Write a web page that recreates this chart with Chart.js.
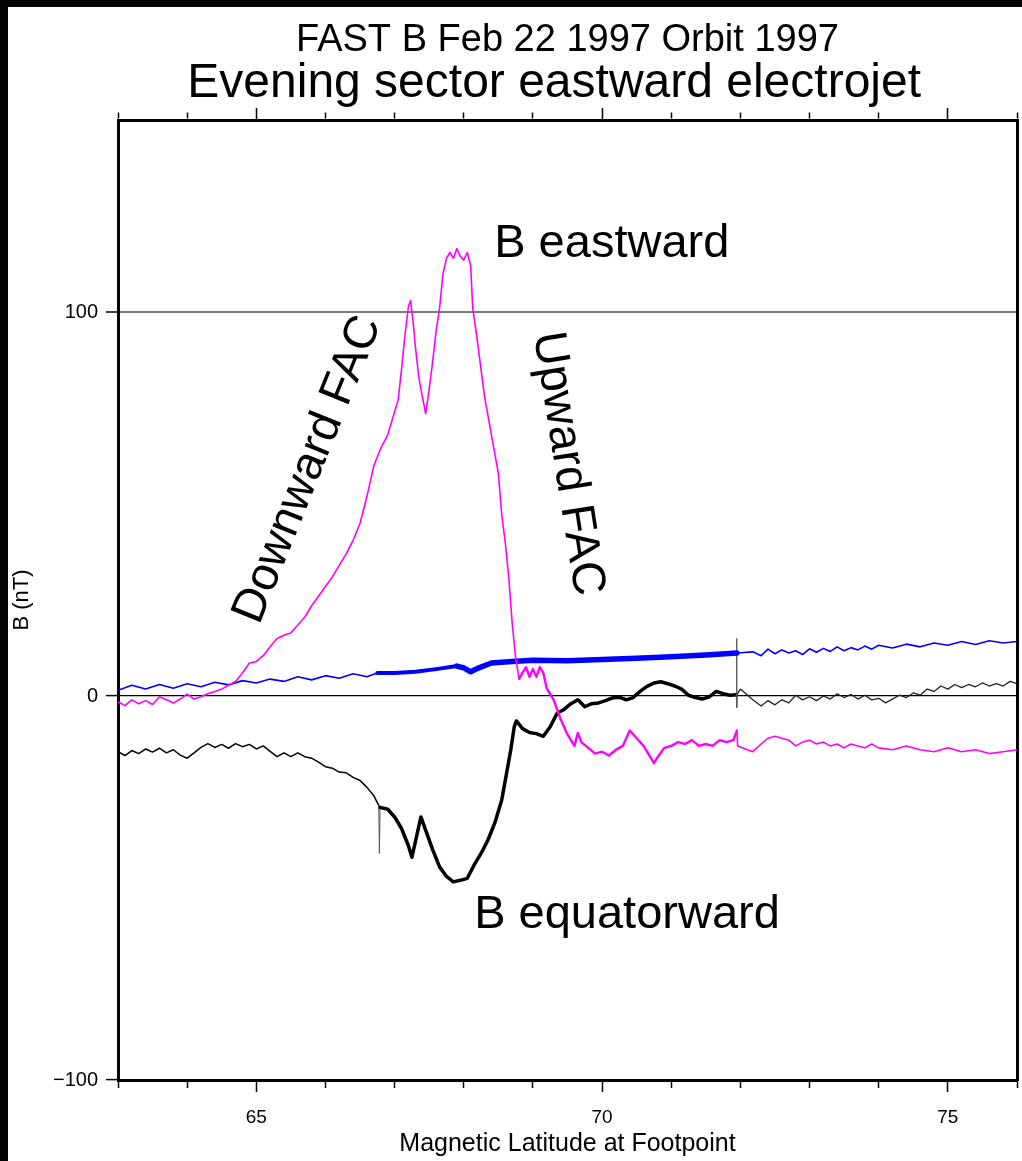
<!DOCTYPE html>
<html>
<head>
<meta charset="utf-8">
<title>FAST B Feb 22 1997 Orbit 1997</title>
<script src="https://cdn.jsdelivr.net/npm/chart.js@4.4.1/dist/chart.umd.min.js"></script>
<style>
  html, body { margin: 0; padding: 0; background: #000; }
  #wrap { width: 1022px; height: 1161px; }
</style>
</head>
<body>
<div id="wrap"><canvas id="chart" width="1022" height="1161"></canvas></div>
<script>
// FAST magnetometer pass - evening sector eastward electrojet

const FONT = "'Liberation Sans', Arial, Helvetica, sans-serif";

// tick values
const yTicks = [-100, 0, 100];
const latMin = 63;
const latMax = 76;
const yMin = -100;
const yMax = 150;

// B eastward (magenta)
const eastLat = [
  63.0, 63.1, 63.2, 63.3, 63.4, 63.5, 63.6, 63.7, 63.8, 63.9,
  64.0, 64.1, 64.2, 64.3, 64.4, 64.5, 64.6, 64.7, 64.8, 64.9,
  65.0, 65.1, 65.2, 65.3, 65.4, 65.5, 65.6, 65.7, 65.8, 65.9,
  66.0, 66.1, 66.2, 66.3, 66.4, 66.5, 66.6, 66.7, 66.8, 66.9,
  67.0, 67.05, 67.1, 67.15, 67.2, 67.23, 67.27, 67.3, 67.35, 67.4,
  67.45, 67.5, 67.55, 67.6, 67.65, 67.7, 67.75, 67.8, 67.85, 67.9,
  67.95, 68.0, 68.05, 68.1, 68.13, 68.2, 68.3, 68.4, 68.5, 68.55,
  68.6, 68.65, 68.7, 68.75, 68.8, 68.85, 68.9, 68.95, 69.0, 69.05,
  69.1, 69.15, 69.2, 69.3, 69.4, 69.5, 69.6, 69.65, 69.7, 69.8,
  69.9, 70.0, 70.1, 70.2, 70.3, 70.4, 70.5, 70.6, 70.7, 70.75,
  70.8, 70.9, 71.0, 71.1, 71.2, 71.3, 71.4, 71.5, 71.6, 71.7,
  71.8, 71.9, 71.95, 71.96, 72.18, 72.3, 72.4, 72.5, 72.6, 72.7,
  72.8, 72.9, 73.0, 73.1, 73.2, 73.3, 73.4, 73.5, 73.6, 73.7,
  73.8, 73.9, 74.0, 74.2, 74.4, 74.6, 74.8, 75.0, 75.2, 75.4,
  75.6, 75.8, 76.0
];
const eastB = [
  -1.5, -2.5, -1.0, -2.0, -1.2, -2.2, -0.2, -1.0, -1.8, -0.8,
  0.5, -0.8, -0.2, 0.6, 1.2, 1.8, 2.8, 3.8, 6.0, 8.6,
  9.0, 10.5, 12.8, 15.0, 15.8, 16.4, 18.5, 20.5, 23.5, 26.0,
  28.5, 31.0, 34.0, 37.0, 40.5, 45.0, 52.0, 60.0, 64.5, 68.0,
  74.0, 77.0, 85.0, 94.0, 101.5, 103.0, 97.0, 91.0, 83.0, 78.0,
  73.5, 80.0, 87.0, 95.0, 101.0, 110.0, 114.0, 115.5, 114.0, 116.5,
  114.5, 113.5, 115.5, 112.0, 101.0, 92.0, 78.0, 68.0, 58.0, 47.0,
  40.0, 31.0, 19.0, 10.0, 4.5, 6.0, 7.5, 5.0, 7.0, 5.0,
  7.5, 6.0, 2.0, -1.0, -6.0, -10.0, -13.0, -9.6, -12.0, -13.5,
  -15.0, -14.5, -15.5, -14.0, -13.0, -9.0, -11.0, -13.0, -16.0, -17.5,
  -16.0, -13.5, -13.0, -12.0, -12.5, -11.5, -13.0, -12.5, -13.0, -11.5,
  -12.0, -11.5, -9.0, -13.0, -14.5, -12.5, -11.0, -10.5, -11.0, -11.5,
  -13.0, -12.0, -11.5, -12.5, -12.0, -13.0, -12.5, -13.5, -12.5, -13.0,
  -13.5, -12.5, -13.5, -14.0, -13.0, -14.0, -14.5, -13.5, -14.5, -14.0,
  -15.0, -14.5, -14.0
];

// third component (blue, unlabelled)
const alongLat = [
  63.0, 63.2, 63.4, 63.6, 63.8, 64.0, 64.2, 64.4, 64.6, 64.8,
  65.0, 65.2, 65.4, 65.6, 65.8, 66.0, 66.2, 66.4, 66.6, 66.75,
  67.0, 67.3, 67.6, 67.9, 68.0, 68.1, 68.2, 68.4, 68.7, 69.0,
  69.5, 70.0, 70.5, 71.0, 71.5, 71.95, 72.18, 72.3, 72.4, 72.5,
  72.6, 72.7, 72.8, 72.9, 73.0, 73.1, 73.2, 73.3, 73.4, 73.5,
  73.6, 73.7, 73.8, 73.9, 74.0, 74.2, 74.4, 74.6, 74.8, 75.0,
  75.2, 75.4, 75.6, 75.8, 76.0
];
const alongB = [
  1.5, 2.8, 1.8, 3.0, 2.0, 3.2, 2.4, 3.6, 2.9, 4.0,
  3.4, 4.4, 3.8, 5.0, 4.2, 5.3, 4.6, 5.8, 5.0, 6.0,
  6.0, 6.3, 7.0, 7.8, 7.3, 6.3, 7.2, 8.6, 9.0, 9.3,
  9.2, 9.5, 9.8, 10.2, 10.7, 11.2, 11.5, 10.5, 12.2, 11.0,
  12.0, 11.2, 11.8, 10.8, 12.3, 11.4, 12.4, 11.6, 12.8, 11.8,
  12.6, 12.0, 13.0, 12.2, 13.2, 12.5, 13.5, 12.8, 13.8, 13.2,
  14.2, 13.4, 14.4, 13.8, 14.2
];

// B equatorward (black)
const equLat = [
  63.0, 63.1, 63.2, 63.3, 63.4, 63.5, 63.6, 63.7, 63.8, 63.9,
  64.0, 64.1, 64.2, 64.3, 64.4, 64.5, 64.6, 64.7, 64.8, 64.9,
  65.0, 65.1, 65.2, 65.3, 65.4, 65.5, 65.6, 65.7, 65.8, 65.9,
  66.0, 66.1, 66.2, 66.3, 66.4, 66.5, 66.6, 66.7, 66.77, 66.78,
  66.79, 66.9, 67.0, 67.1, 67.2, 67.25, 67.3, 67.38, 67.45, 67.55,
  67.65, 67.75, 67.85, 67.95, 68.05, 68.15, 68.25, 68.35, 68.45, 68.55,
  68.62, 68.68, 68.73, 68.76, 68.85, 68.95, 69.05, 69.15, 69.25, 69.35,
  69.45, 69.55, 69.65, 69.75, 69.85, 69.95, 70.05, 70.15, 70.25, 70.35,
  70.45, 70.55, 70.65, 70.75, 70.85, 70.95, 71.05, 71.15, 71.25, 71.35,
  71.45, 71.55, 71.65, 71.75, 71.85, 71.94, 71.945, 71.95, 71.955, 72.0,
  72.18, 72.3, 72.4, 72.5, 72.6, 72.7, 72.8, 72.9, 73.0, 73.1,
  73.2, 73.3, 73.4, 73.5, 73.6, 73.7, 73.8, 73.9, 74.0, 74.1,
  74.2, 74.3, 74.4, 74.5, 74.6, 74.7, 74.8, 74.9, 75.0, 75.1,
  75.2, 75.3, 75.4, 75.5, 75.6, 75.7, 75.8, 75.9, 76.0
];
const equB = [
  -14.5, -15.5, -14.2, -15.0, -13.8, -14.6, -13.6, -14.8, -14.0, -15.4,
  -16.2, -14.8, -13.4, -12.4, -13.4, -12.6, -13.6, -12.4, -13.2, -12.6,
  -13.8, -13.0, -14.4, -15.8, -14.8, -15.8, -14.8, -15.8, -16.2, -17.2,
  -18.4, -18.8, -19.8, -20.0, -21.2, -22.0, -23.8, -26.0, -28.5, -41.0,
  -29.0, -29.5, -31.5, -34.5, -39.0, -42.0, -38.0, -31.5, -35.0, -40.0,
  -44.5, -47.0, -48.4, -48.0, -47.5, -44.0, -41.0, -37.5, -33.0, -27.0,
  -20.0, -14.0, -8.0, -6.5, -8.5, -9.5, -9.8, -10.5, -8.0, -4.5,
  -3.5, -2.0, -1.0, -2.8, -2.0, -1.8, -1.2, -0.5, -0.3, -1.0,
  -0.4, 1.2, 2.5, 3.4, 3.7, 3.2, 2.6, 1.8, 0.2, -0.4,
  -0.8, -0.2, 1.2, 0.6, 0.2, 0.3, 15.0, -3.0, 0.5, 1.8,
  -1.0, -2.6, -1.2, -2.3, -1.0, -1.8, 0.2, -1.0, -0.2, -1.2,
  0.0, -0.8, 0.6, -0.4, 0.4, -0.8, 0.2, -1.0, -0.6, -1.8,
  -0.8, 0.2, -0.4, 0.8, 0.2, 1.8, 1.2, 2.6, 1.8, 3.0,
  2.2, 3.0, 2.4, 3.4, 2.6, 3.2, 2.6, 3.8, 3.2
];

// text labels drawn inside the plot, placed in data coordinates
const notes = [
  { text: 'B eastward', lat: 68.44, val: 114.3, angle: 0, align: 'left', baseline: 'alphabetic' },
  { text: 'B equatorward', lat: 68.15, val: -60.4, angle: 0, align: 'left', baseline: 'alphabetic' },
  { text: 'Downward FAC', lat: 65.75, val: 59.0, angle: -68, align: 'center', baseline: 'middle' },
  { text: 'Upward FAC', lat: 69.5, val: 60.5, angle: 81, align: 'center', baseline: 'middle' }
];

function pairs(xs, ys) {
  return xs.map((x, i) => ({ x: x, y: ys[i] }));
}

// pick a segment style from lat ranges [from, to, value]
function byLat(ranges, base) {
  return ctx => {
    const x0 = ctx.p0.parsed.x;
    for (const r of ranges) {
      if (x0 >= r[0] && x0 < r[1]) return r[2];
    }
    return base;
  };
}

const isMajor = c => c.tick && Math.round(c.tick.value) % 5 === 0;

// no side padding from end labels, the frame must span the full range
function noEndPadding(s) {
  s.paddingLeft = 0;
  s.paddingRight = 0;
}

// black frame round the white page
const pageBackground = {
  id: 'pageBackground',
  beforeDraw(chart) {
    const ctx = chart.ctx;
    ctx.save();
    ctx.fillStyle = '#050505';
    ctx.fillRect(0, 0, chart.width, chart.height);
    ctx.fillStyle = '#ffffff';
    ctx.fillRect(8, 7, chart.width - 8, chart.height - 7);
    ctx.restore();
  }
};

const plotNotes = {
  id: 'plotNotes',
  afterDatasetsDraw(chart) {
    const ctx = chart.ctx;
    const xs = chart.scales.x;
    const ys = chart.scales.y;
    ctx.save();
    ctx.fillStyle = '#000';
    ctx.font = '47px ' + FONT;
    notes.forEach(n => {
      ctx.save();
      ctx.translate(xs.getPixelForValue(n.lat), ys.getPixelForValue(n.val));
      ctx.rotate(n.angle * Math.PI / 180);
      ctx.textAlign = n.align;
      ctx.textBaseline = n.baseline;
      ctx.fillText(n.text, 0, 0);
      ctx.restore();
    });
    ctx.restore();
  }
};

const chart = new Chart(document.getElementById('chart'), {
  type: 'line',
  data: {
    datasets: [
      {
        label: 'B eastward',
        data: pairs(eastLat, eastB),
        borderColor: '#ff00ff',
        borderWidth: 1.6,
        segment: { borderWidth: byLat([[68.8, 71.95, 2.4]], 1.6) }
      },
      {
        label: 'B third',
        data: pairs(alongLat, alongB),
        borderColor: '#0000ff',
        borderWidth: 1.6,
        segment: { borderWidth: byLat([[66.75, 67.9, 4], [67.9, 71.95, 5.5]], 1.6) }
      },
      {
        label: 'B equatorward',
        data: pairs(equLat, equB),
        borderColor: '#000000',
        borderWidth: 1.5,
        segment: {
          borderWidth: byLat([[66.765, 66.785, 1], [66.785, 71.935, 3.5], [71.935, 71.952, 1], [71.952, 77, 1.3]], 1.5),
          borderColor: byLat([[66.765, 66.785, '#555'], [71.935, 71.952, '#555'], [71.952, 77, '#222']], '#000')
        }
      }
    ]
  },
  options: {
    responsive: false,
    animation: false,
    parsing: false,
    layout: { padding: { left: 8, top: 7, right: 5, bottom: 0 } },
    elements: {
      point: { radius: 0 },
      line: { tension: 0, borderJoinStyle: 'round', borderCapStyle: 'round' }
    },
    plugins: {
      legend: { display: false },
      tooltip: { enabled: false },
      title: {
        display: true,
        fullSize: false,
        text: 'FAST B Feb 22 1997 Orbit 1997',
        color: '#000',
        font: { family: FONT, size: 38, weight: 'normal', lineHeight: 1 },
        padding: { top: 14.5, bottom: 0 }
      },
      subtitle: {
        display: true,
        fullSize: false,
        // two trailing no-break spaces pull this line a little left, as in the original
        text: 'Evening sector eastward electrojet\u00a0\u00a0',
        color: '#000',
        font: { family: FONT, size: 48, weight: 'normal', lineHeight: 0.9 },
        padding: { top: 2.5, bottom: 2.8 }
      }
    },
    scales: {
      x: {
        type: 'linear',
        position: 'bottom',
        min: latMin,
        max: latMax,
        afterFit: s => { s.height = 81; noEndPadding(s); },
        border: { color: '#000', width: 3 },
        grid: {
          drawOnChartArea: false,
          tickLength: 12,
          tickColor: '#000',
          tickWidth: 1.5,
          tickBorderDash: c => isMajor(c) ? [] : [6, 20]
        },
        ticks: {
          stepSize: 1,
          autoSkip: false,
          includeBounds: false,
          maxRotation: 0,
          padding: 14,
          color: '#000',
          font: { family: FONT, size: 19 },
          callback: v => (Math.round(v) % 5 === 0 ? String(v) : '')
        },
        title: {
          display: true,
          text: 'Magnetic Latitude at Footpoint',
          color: '#000',
          font: { family: FONT, size: 25 },
          padding: { top: 0, bottom: 2 }
        }
      },
      x2: {
        type: 'linear',
        position: 'top',
        min: latMin,
        max: latMax,
        afterFit: s => { s.height = 12; noEndPadding(s); },
        border: { color: '#000', width: 3 },
        grid: {
          drawOnChartArea: false,
          tickLength: 12,
          tickColor: '#000',
          tickWidth: 1.5,
          tickBorderDash: c => isMajor(c) ? [] : [6, 4.5],
          tickBorderDashOffset: c => isMajor(c) ? 0 : 6
        },
        ticks: { display: false, stepSize: 1, autoSkip: false, includeBounds: false }
      },
      y: {
        type: 'linear',
        position: 'left',
        min: yMin,
        max: yMax,
        afterFit: s => { s.width = 110; },
        afterBuildTicks: s => { s.ticks = yTicks.map(v => ({ value: v })); },
        border: { color: '#000', width: 3 },
        grid: {
          color: c => {
            if (!c.tick) return 'rgba(0,0,0,0)';
            if (c.tick.value === 100) return '#7a7a7a';
            if (c.tick.value === 0) return '#000';
            return 'rgba(0,0,0,0)';
          },
          lineWidth: c => (c.tick && c.tick.value === 100 ? 2 : 1.2),
          tickLength: 12,
          tickColor: '#000',
          tickWidth: 1.5
        },
        ticks: {
          padding: 8,
          color: '#000',
          font: { family: FONT, size: 20 },
          callback: v => String(v).replace('-', '\u2212')
        },
        title: {
          display: true,
          text: 'B (nT)',
          color: '#000',
          font: { family: FONT, size: 22 },
          padding: { top: 1, bottom: 0 }
        }
      },
      y2: {
        type: 'linear',
        position: 'right',
        min: yMin,
        max: yMax,
        afterFit: s => { s.width = 0; },
        border: { color: '#000', width: 3 },
        grid: { display: false, drawTicks: false },
        ticks: { display: false }
      }
    }
  },
  plugins: [pageBackground, plotNotes]
});
</script>
</body>
</html>
